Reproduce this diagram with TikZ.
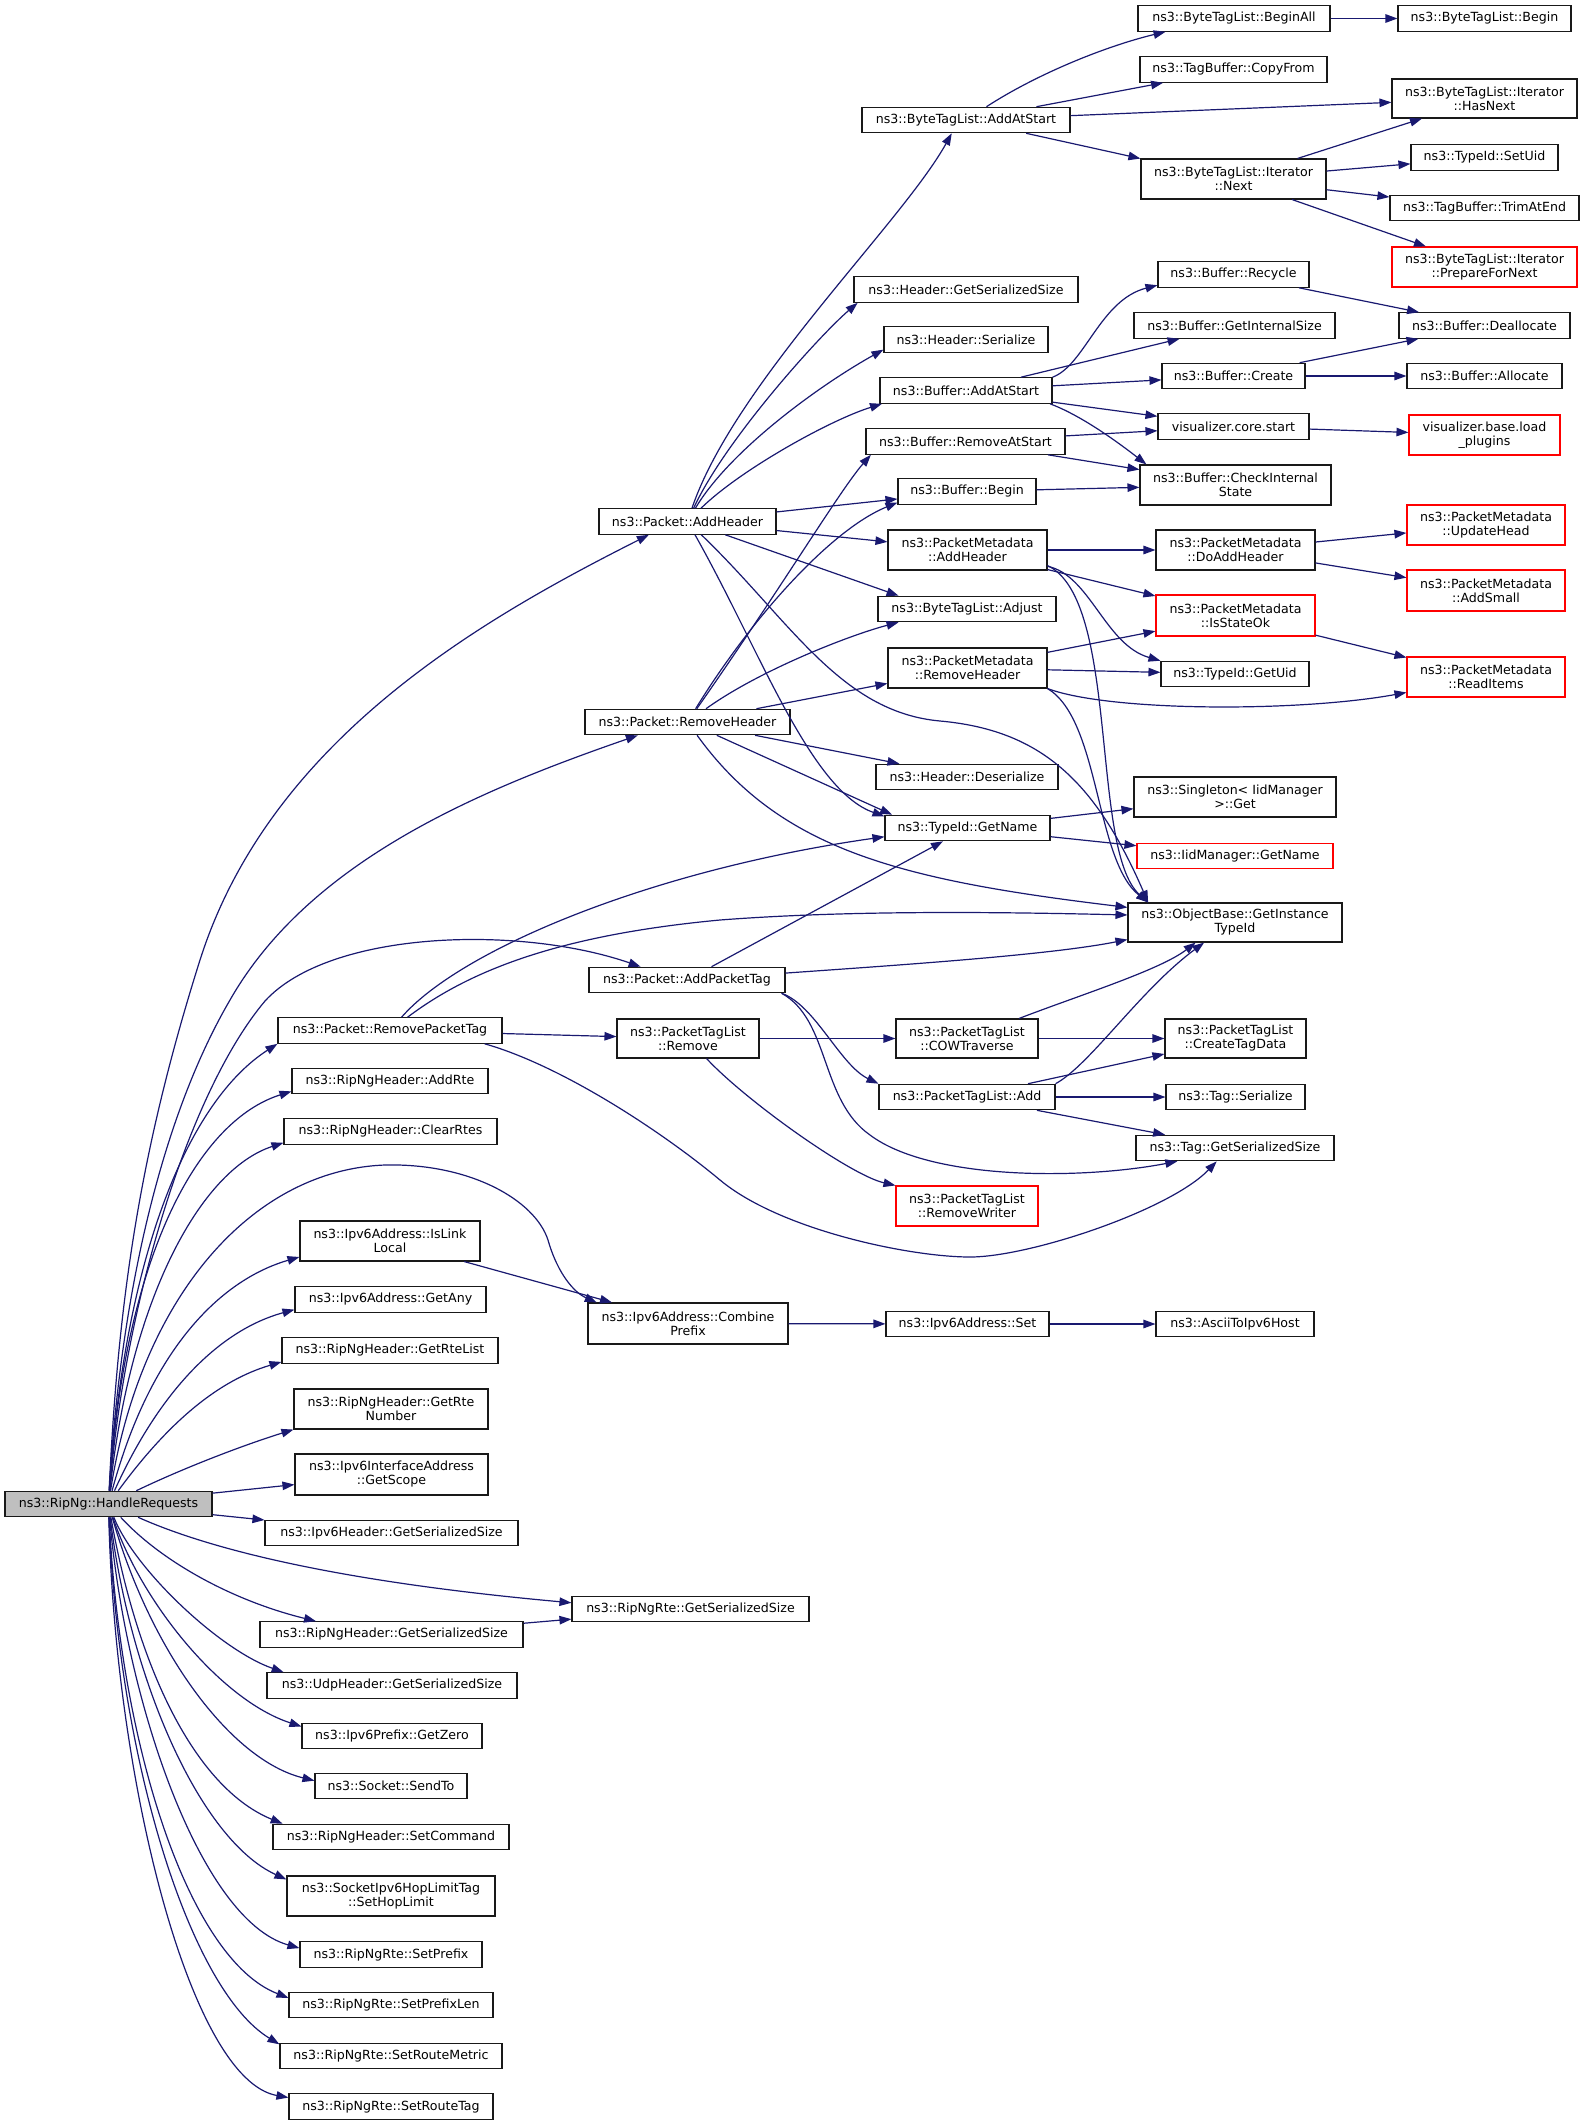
\documentclass[tikz,border=0pt]{standalone}
\usepackage{fontspec}
\setmainfont{DejaVu Sans}
\usetikzlibrary{arrows.meta}
\definecolor{edgeblue}{HTML}{191970}
\definecolor{hgray}{HTML}{BFBFBF}
\tikzset{
  box/.style={draw=black!90, line width=1.1pt, fill=white, inner sep=1pt, align=center,
    font=\fontsize{12.6}{14}\selectfont, minimum height=25.5pt},
  redbox/.style={box, draw=red},
  e/.style={draw=edgeblue, line width=1.2pt, -{Triangle[length=12pt,width=8.5pt]}}
}
\begin{document}
\begin{tikzpicture}[x=1pt,y=-1pt]
\useasboundingbox (0,0) rectangle (1581,2125);
% ---------- nodes ----------
\node[box,minimum width=192pt] (BTBA) at (1234,18.5) {ns3::ByteTagList::BeginAll};
\node[box,minimum width=173pt] (BTB) at (1484.5,18.5) {ns3::ByteTagList::Begin};
\node[box,minimum width=187pt] (TBCF) at (1233.5,69.5) {ns3::TagBuffer::CopyFrom};
\node[box,minimum width=185pt,minimum height=39pt] (ITHN) at (1484.5,98.5) {ns3::ByteTagList::Iterator\\::HasNext};
\node[box,minimum width=208pt] (BTAS) at (966,120) {ns3::ByteTagList::AddAtStart};
\node[box,minimum width=147pt] (SUID) at (1484.5,157.5) {ns3::TypeId::SetUid};
\node[box,minimum width=185pt,minimum height=40pt] (ITN) at (1233.5,179) {ns3::ByteTagList::Iterator\\::Next};
\node[box,minimum width=189pt] (TAE) at (1484.5,208) {ns3::TagBuffer::TrimAtEnd};
\node[redbox,minimum width=185pt,minimum height=40pt] (PFN) at (1484.5,267) {ns3::ByteTagList::Iterator\\::PrepareForNext};
\node[box,minimum width=151pt] (BRC) at (1233.5,274.5) {ns3::Buffer::Recycle};
\node[box,minimum width=224pt] (HGS) at (966,289.5) {ns3::Header::GetSerializedSize};
\node[box,minimum width=201pt] (BGIS) at (1234.5,325.5) {ns3::Buffer::GetInternalSize};
\node[box,minimum width=171pt] (BDA) at (1484.5,325.5) {ns3::Buffer::Deallocate};
\node[box,minimum width=164pt] (HS) at (966,339.5) {ns3::Header::Serialize};
\node[box,minimum width=143pt] (BCR) at (1233.5,376) {ns3::Buffer::Create};
\node[box,minimum width=155pt] (BAL) at (1484.5,376) {ns3::Buffer::Allocate};
\node[box,minimum width=172pt] (BAS) at (966,390.5) {ns3::Buffer::AddAtStart};
\node[box,minimum width=151pt] (VCS) at (1233.5,426.5) {visualizer.core.start};
\node[redbox,minimum width=151pt,minimum height=40pt] (VBL) at (1484.5,435) {visualizer.base.load\\\_plugins};
\node[box,minimum width=199pt] (BRAS) at (965.5,441.5) {ns3::Buffer::RemoveAtStart};
\node[box,minimum width=191pt,minimum height=40pt] (BCIS) at (1235.5,485) {ns3::Buffer::CheckInternal\\State};
\node[box,minimum width=138pt] (BB) at (967,491.5) {ns3::Buffer::Begin};
\node[box,minimum width=177pt] (PAH) at (687.5,521.5) {ns3::Packet::AddHeader};
\node[redbox,minimum width=158pt,minimum height=40pt] (PMUH) at (1486,525) {ns3::PacketMetadata\\::UpdateHead};
\node[box,minimum width=159pt,minimum height=40pt] (PMAH) at (967.5,550) {ns3::PacketMetadata\\::AddHeader};
\node[box,minimum width=159pt,minimum height=40pt] (PMDAH) at (1235.5,550) {ns3::PacketMetadata\\::DoAddHeader};
\node[redbox,minimum width=158pt,minimum height=41pt] (PMAS) at (1486,590.5) {ns3::PacketMetadata\\::AddSmall};
\node[box,minimum width=178pt] (BTADJ) at (967,609) {ns3::ByteTagList::Adjust};
\node[redbox,minimum width=159pt,minimum height=41pt] (PMISO) at (1235.5,615.5) {ns3::PacketMetadata\\::IsStateOk};
\node[box,minimum width=159pt,minimum height=40pt] (PMRH) at (967.5,668) {ns3::PacketMetadata\\::RemoveHeader};
\node[box,minimum width=148pt] (TGU) at (1235,674) {ns3::TypeId::GetUid};
\node[redbox,minimum width=158pt,minimum height=40pt] (PMRI) at (1486,677) {ns3::PacketMetadata\\::ReadItems};
\node[box,minimum width=205pt] (PRH) at (687.5,722) {ns3::Packet::RemoveHeader};
\node[box,minimum width=182pt] (HD) at (967,777) {ns3::Header::Deserialize};
\node[box,minimum width=202pt,minimum height=40pt] (SIG) at (1235,797) {ns3::Singleton< IidManager\\ >::Get};
\node[box,minimum width=165pt] (TGN) at (967.5,828) {ns3::TypeId::GetName};
\node[redbox,minimum width=196pt] (IMGN) at (1235,856) {ns3::IidManager::GetName};
\node[box,minimum width=214pt,minimum height=39pt] (OBGI) at (1235,922.5) {ns3::ObjectBase::GetInstance\\TypeId};
\node[box,minimum width=196pt] (APT) at (687,980) {ns3::Packet::AddPacketTag};
\node[box,minimum width=224pt] (RPT) at (390,1030.5) {ns3::Packet::RemovePacketTag};
\node[box,minimum width=142pt,minimum height=39pt] (PTLR) at (688,1038.5) {ns3::PacketTagList\\::Remove};
\node[box,minimum width=142pt,minimum height=39pt] (COW) at (967,1038.5) {ns3::PacketTagList\\::COWTraverse};
\node[box,minimum width=141pt,minimum height=39pt] (CTD) at (1235.5,1038.5) {ns3::PacketTagList\\::CreateTagData};
\node[box,minimum width=196pt] (AR) at (390,1081) {ns3::RipNgHeader::AddRte};
\node[box,minimum width=176pt] (PTLA) at (967,1097) {ns3::PacketTagList::Add};
\node[box,minimum width=139pt] (TS) at (1235.5,1097) {ns3::Tag::Serialize};
\node[box,minimum width=213pt] (CR) at (390.5,1131.5) {ns3::RipNgHeader::ClearRtes};
\node[box,minimum width=198pt] (TGSS) at (1235,1148) {ns3::Tag::GetSerializedSize};
\node[redbox,minimum width=142pt,minimum height=40pt] (PTRW) at (967,1206) {ns3::PacketTagList\\::RemoveWriter};
\node[box,minimum width=180pt,minimum height=40pt] (ILL) at (390,1241) {ns3::Ipv6Address::IsLink\\Local};
\node[box,minimum width=191pt] (GANY) at (390.5,1299.5) {ns3::Ipv6Address::GetAny};
\node[box,minimum width=200pt,minimum height=41pt] (CP) at (688,1323.5) {ns3::Ipv6Address::Combine\\Prefix};
\node[box,minimum width=163pt] (IAS) at (967.5,1324) {ns3::Ipv6Address::Set};
\node[box,minimum width=158pt] (AIH) at (1235,1324) {ns3::AsciiToIpv6Host};
\node[box,minimum width=216pt] (GRL) at (390,1350.5) {ns3::RipNgHeader::GetRteList};
\node[box,minimum width=194pt,minimum height=40pt] (GRN) at (391,1409) {ns3::RipNgHeader::GetRte\\Number};
\node[box,minimum width=193pt,minimum height=41pt] (GSC) at (391.5,1474.5) {ns3::Ipv6InterfaceAddress\\::GetScope};
\node[box,fill=hgray,minimum width=207pt] (H) at (108.5,1504) {ns3::RipNg::HandleRequests};
\node[box,minimum width=253pt] (I6GSS) at (391.5,1533) {ns3::Ipv6Header::GetSerializedSize};
\node[box,minimum width=237pt] (RRGSS) at (690.5,1609) {ns3::RipNgRte::GetSerializedSize};
\node[box,minimum width=263pt] (RHGSS) at (391.5,1634.5) {ns3::RipNgHeader::GetSerializedSize};
\node[box,minimum width=250pt] (UGSS) at (392,1685.5) {ns3::UdpHeader::GetSerializedSize};
\node[box,minimum width=180pt] (PGZ) at (392,1736) {ns3::Ipv6Prefix::GetZero};
\node[box,minimum width=152pt] (SST) at (391,1786) {ns3::Socket::SendTo};
\node[box,minimum width=236pt] (SC) at (391,1837) {ns3::RipNgHeader::SetCommand};
\node[box,minimum width=208pt,minimum height=40pt] (SHL) at (391,1896) {ns3::SocketIpv6HopLimitTag\\::SetHopLimit};
\node[box,minimum width=182pt] (SP) at (391,1954.5) {ns3::RipNgRte::SetPrefix};
\node[box,minimum width=204pt] (SPL) at (391,2005) {ns3::RipNgRte::SetPrefixLen};
\node[box,minimum width=222pt] (SRM) at (391,2056) {ns3::RipNgRte::SetRouteMetric};
\node[box,minimum width=204pt] (SRT) at (391,2106.5) {ns3::RipNgRte::SetRouteTag};
% ---------- edges: top cluster ----------
\draw[e] (BTAS) .. controls (1040,72) and (1110,45) .. (BTBA.191);
\draw[e] (BTAS) -- (TBCF);
\draw[e] (BTAS) -- (ITHN);
\draw[e] (BTAS) -- (ITN);
\draw[e] (BTBA) -- (BTB);
\draw[e] (ITN) -- (ITHN);
\draw[e] (ITN) -- (SUID);
\draw[e] (ITN) -- (TAE);
\draw[e] (ITN) -- (PFN);
% ---------- Packet::AddHeader ----------
\draw[e] (PAH) .. controls (734,384) and (902,223) .. (BTAS.223);
\draw[e] (PAH) .. controls (725,440) and (820,335) .. (HGS.187);
\draw[e] (PAH) .. controls (730,450) and (820,385) .. (HS.187);
\draw[e] (PAH) .. controls (740,470) and (830,420) .. (BAS.189);
\draw[e] (PAH) -- (BB);
\draw[e] (PAH) -- (PMAH);
\draw[e] (PAH) -- (BTADJ.169);
\draw[e] (PAH) .. controls (760,650) and (810,790) .. (TGN.172);
\draw[e] (PAH) .. controls (790,620) and (840,712) .. (940,721) .. controls (1040,730) and (1095,780) .. (OBGI.167);
% ---------- Packet::RemoveHeader ----------
\draw[e] (PRH) .. controls (780,590) and (840,490) .. (BRAS.188);
\draw[e] (PRH) .. controls (750,620) and (830,530) .. (BB.189);
\draw[e] (PRH) .. controls (760,670) and (850,635) .. (BTADJ.191);
\draw[e] (PRH) -- (PMRH);
\draw[e] (PRH) -- (HD);
\draw[e] (PRH) -- (TGN.170);
\draw[e] (PRH) .. controls (780,850) and (900,880) .. (OBGI.172);
% ---------- Buffer ----------
\draw[e] (BAS.north east) .. controls (1085,365) and (1100,300) .. (BRC.188);
\draw[e] (BAS) -- (BGIS);
\draw[e] (BAS) -- (BCR);
\draw[e] (BAS) -- (VCS);
\draw[e] (BAS.-9) .. controls (1080,415) and (1115,440) .. (BCIS.167);
\draw[e] (BRAS) -- (VCS);
\draw[e] (BRAS) -- (BCIS);
\draw[e] (BB) -- (BCIS);
\draw[e] (BRC) -- (BDA);
\draw[e] (BCR) -- (BDA);
\draw[e] (BCR) -- (BAL);
\draw[e] (VCS) -- (VBL);
% ---------- PacketMetadata ----------
\draw[e] (PMAH) -- (PMDAH);
\draw[e] (PMAH) -- (PMISO);
\draw[e] (PMAH) .. controls (1090,575) and (1105,645) .. (TGU.north west);
\draw[e] (PMAH.-11) .. controls (1120,600) and (1090,850) .. (OBGI.167);
\draw[e] (PMDAH) -- (PMUH);
\draw[e] (PMDAH) -- (PMAS);
\draw[e] (PMISO) -- (PMRI);
\draw[e] (PMRH) -- (PMISO);
\draw[e] (PMRH) -- (TGU);
\draw[e] (PMRH.south east) .. controls (1110,712) and (1300,712) .. (PMRI.191);
\draw[e] (PMRH.south east) .. controls (1100,720) and (1095,860) .. (OBGI.167);
\draw[e] (TGN) -- (SIG);
\draw[e] (TGN) -- (IMGN);
% ---------- PacketTag ----------
\draw[e] (APT) -- (TGN);
\draw[e] (APT) .. controls (900,965) and (1050,955) .. (OBGI.189);
\draw[e] (APT.-8) .. controls (815,1005) and (840,1065) .. (PTLA.north west);
\draw[e] (APT.-8) .. controls (830,1020) and (820,1100) .. (870,1135) .. controls (930,1180) and (1080,1180) .. (TGSS.193);
\draw[e] (RPT) .. controls (460,950) and (650,870) .. (TGN.186);
\draw[e] (RPT) .. controls (470,970) and (560,935) .. (720,920) .. controls (850,910) and (1000,912) .. (OBGI.176);
\draw[e] (RPT) -- (PTLR);
\draw[e] (RPT.-8) .. controls (560,1065) and (660,1130) .. (720,1180) .. controls (780,1230) and (910,1257) .. (970,1257) .. controls (1030,1257) and (1170,1210) .. (TGSS.216);
\draw[e] (PTLR) -- (COW);
\draw[e] (PTLR) .. controls (745,1100) and (850,1175) .. (PTRW.north west);
\draw[e] (COW) -- (CTD);
\draw[e] (COW) .. controls (1080,995) and (1160,970) .. (OBGI.207);
\draw[e] (PTLA.north east) .. controls (1090,1065) and (1140,990) .. (OBGI.213);
\draw[e] (PTLA) -- (CTD);
\draw[e] (PTLA) -- (TS);
\draw[e] (PTLA) -- (TGSS);
% ---------- Ipv6 ----------
\draw[e] (CP) -- (IAS);
\draw[e] (IAS) -- (AIH);
\draw[e] (ILL) -- (CP);
\draw[e] (RHGSS) -- (RRGSS);
% ---------- HandleRequests ----------
\draw[e] (H) .. controls (118,1300) and (140,1150) .. (200,960) .. controls (270,740) and (480,620) .. (PAH.199);
\draw[e] (H) .. controls (120,1300) and (160,1120) .. (230,1000) .. controls (310,860) and (480,790) .. (PRH.195);
\draw[e] (H) .. controls (125,1300) and (190,1090) .. (265,1001) .. controls (330,930) and (520,925) .. (APT.164);
\draw[e] (H) .. controls (125,1250) and (190,1100) .. (RPT.south west);
\draw[e] (H) .. controls (125,1250) and (200,1120) .. (AR.186);
\draw[e] (H) .. controls (130,1300) and (200,1170) .. (CR.186);
\draw[e] (H) .. controls (140,1300) and (250,1170) .. (385,1165) .. controls (470,1163) and (535,1200) .. (548,1240) .. controls (558,1275) and (575,1293) .. (CP.167);
\draw[e] (H) .. controls (150,1350) and (220,1280) .. (ILL.190);
\draw[e] (H) .. controls (160,1390) and (220,1330) .. (GANY.186);
\draw[e] (H) .. controls (170,1420) and (220,1380) .. (GRL.186);
\draw[e] (H) .. controls (190,1465) and (250,1443) .. (GRN.south west);
\draw[e] (H) -- (GSC);
\draw[e] (H) -- (I6GSS);
\draw[e] (H) .. controls (200,1545) and (320,1580) .. (RRGSS.177);
\draw[e] (H) .. controls (160,1560) and (230,1600) .. (RHGSS.170);
\draw[e] (H) .. controls (135,1570) and (220,1650) .. (UGSS.173);
\draw[e] (H) .. controls (140,1600) and (220,1700) .. (PGZ.174);
\draw[e] (H) .. controls (150,1650) and (230,1760) .. (SST.176);
\draw[e] (H) .. controls (140,1680) and (200,1790) .. (SC.173);
\draw[e] (H) .. controls (130,1680) and (200,1840) .. (SHL.171);
\draw[e] (H) .. controls (125,1700) and (200,1920) .. (SP.176);
\draw[e] (H) .. controls (120,1750) and (190,1960) .. (SPL.176);
\draw[e] (H) .. controls (118,1760) and (190,1990) .. (SRM.174);
\draw[e] (H) .. controls (115,1780) and (190,2080) .. (SRT.175);
\end{tikzpicture}
\end{document}
